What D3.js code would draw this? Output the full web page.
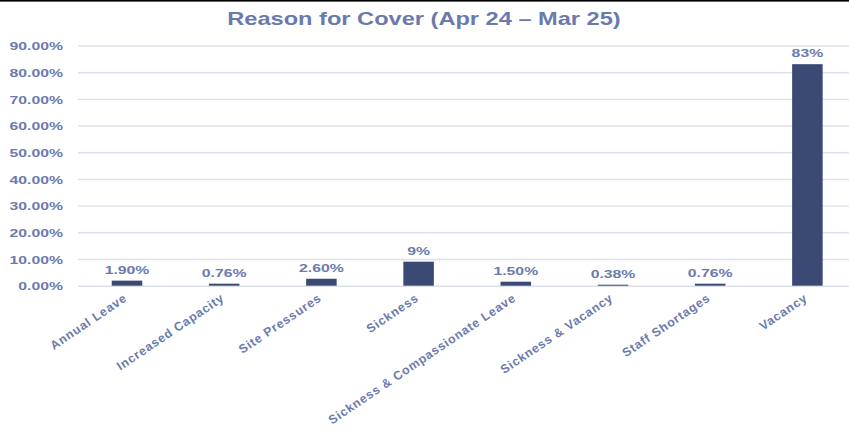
<!DOCTYPE html>
<html>
<head>
<meta charset="utf-8">
<script src="https://cdn.jsdelivr.net/npm/d3@7"></script>
<style>
  html, body { margin: 0; padding: 0; background: #ffffff; }
  svg { display: block; }
  text { font-family: "Liberation Sans", Arial, sans-serif; font-weight: bold; fill: #6b7aad; }
</style>
</head>
<body>
<svg id="chart" width="849" height="432"></svg>
<script>
// Reasons for cover, share of all cover requests (Apr 24 – Mar 25)
const categories = [
  "Annual Leave", "Increased Capacity", "Site Pressures", "Sickness",
  "Sickness & Compassionate Leave", "Sickness & Vacancy", "Staff Shortages", "Vacancy"
];
const values = [1.9, 0.76, 2.6, 9, 1.5, 0.38, 0.76, 83];
const valueLabels = ["1.90%", "0.76%", "2.60%", "9%", "1.50%", "0.38%", "0.76%", "83%"];
const yTicks = [0, 10, 20, 30, 40, 50, 60, 70, 80, 90];
const titleText = "Reason for Cover (Apr 24 \u2013 Mar 25)";

const W = 849, H = 432;
const stretch = 1.35;          // wide lettering used throughout
const barColor = "#3a4a75";
const gridColor = "#dde0ea";

const svg = d3.select("#chart");

const x = d3.scaleBand()
  .domain(categories)
  .range([78.4, 78.4 + 8 * 97.2])
  .paddingInner(0.686)
  .paddingOuter(0.343);

const y = d3.scaleLinear().domain([0, 90]).range([285.7, 45.5]);

// top rule
svg.append("rect").attr("x", 0).attr("y", 0).attr("width", W).attr("height", 1.6).attr("fill", "#000");

// title
svg.append("text")
  .attr("transform", `translate(${W / 2 - 0.5},25) scale(${stretch},1)`)
  .attr("text-anchor", "middle")
  .style("font-size", "17.5px")
  .text(titleText);

// gridlines + y labels via axis
const yAxis = d3.axisLeft(y)
  .tickValues(yTicks)
  .tickSize(0)
  .tickPadding(0)
  .tickFormat(d => d3.format(".2f")(d) + "%");

const gy = svg.append("g").call(yAxis);
gy.select(".domain").remove();
gy.selectAll(".tick text").remove();
gy.selectAll(".tick").each(function(d) {
  const t = d3.select(this);
  t.append("line").attr("x1", 78).attr("x2", W).attr("y1", 0).attr("y2", 0)
    .attr("stroke", gridColor).attr("stroke-width", 1.4);
  t.append("text")
    .attr("transform", `translate(63,0) scale(${stretch},1)`)
    .attr("text-anchor", "end")
    .attr("dy", "0.36em")
    .style("font-size", "11.7px")
    .text(d3.format(".2f")(d) + "%");
});

// bars
svg.append("g").selectAll("rect")
  .data(values)
  .join("rect")
  .attr("x", (d, i) => x(categories[i]))
  .attr("width", x.bandwidth())
  .attr("y", d => y(d))
  .attr("height", d => y(0) - y(d))
  .attr("fill", barColor);

// value labels
svg.append("g").selectAll("text")
  .data(values)
  .join("text")
  .attr("transform", (d, i) => `translate(${x(categories[i]) + x.bandwidth() / 2},${y(d) - 7}) scale(${stretch},1)`)
  .attr("text-anchor", "middle")
  .style("font-size", "11.7px")
  .text((d, i) => valueLabels[i]);

// category labels (rotated)
const xAxis = d3.axisBottom(x).tickSize(0).tickPadding(0);
const gx = svg.append("g").attr("transform", `translate(0,${y(0)})`).call(xAxis);
gx.select(".domain").remove();
gx.selectAll(".tick text").remove();
gx.selectAll(".tick").append("text")
  .attr("transform", "translate(-4,7) rotate(-34)")
  .attr("text-anchor", "end")
  .attr("dy", "0.72em")
  .style("font-size", "12.3px")
  .style("letter-spacing", "0.8px")
  .text(d => d);
</script>
</body>
</html>
